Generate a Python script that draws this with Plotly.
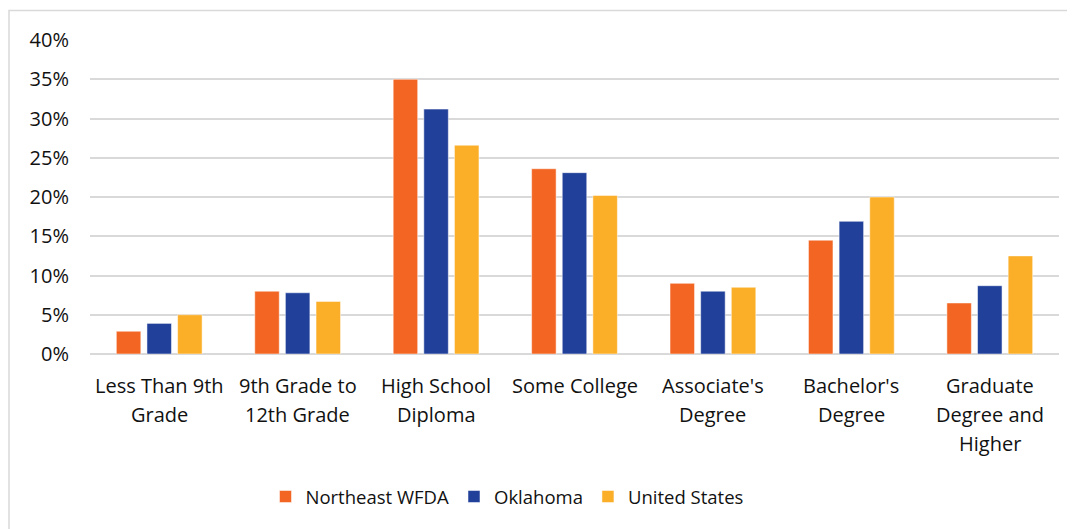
import plotly.graph_objects as go

categories = ["Less Than 9th Grade", "9th Grade to 12th Grade", "High School Diploma",
              "Some College", "Associate's Degree", "Bachelor's Degree",
              "Graduate Degree and Higher"]
label_lines = [["Less Than 9th", "Grade"], ["9th Grade to", "12th Grade"],
               ["High School", "Diploma"], ["Some College"], ["Associate's", "Degree"],
               ["Bachelor's", "Degree"], ["Graduate", "Degree and", "Higher"]]
northeast = [2.9, 8.0, 35.0, 23.6, 9.0, 14.5, 6.5]
oklahoma = [3.9, 7.8, 31.2, 23.1, 8.0, 16.9, 8.7]
united_states = [5.0, 6.7, 26.6, 20.2, 8.5, 20.0, 12.5]
series_names = ["Northeast WFDA", "Oklahoma", "United States"]
colors = ["#F26522", "#21409A", "#FBAE27"]
y_ticks = [0, 5, 10, 15, 20, 25, 30, 35, 40]

FONT = "Open Sans"
TXT = "#111111"

# page body has an 8px margin; figure is sized/placed to compensate
W, H = 1067, 521
L, R, T, B = 82, 16, 32, 175
PW, PH = W - L - R, H - T - B

fig = go.Figure()
for name, vals, col in zip(series_names, [northeast, oklahoma, united_states], colors):
    fig.add_trace(go.Bar(
        x=categories, y=vals, name=name,
        marker=dict(color=col, line=dict(color="rgba(255,255,255,0.5)", width=1)),
    ))

annotations = []
for cat, lines in zip(categories, label_lines):
    for i, ln in enumerate(lines):
        annotations.append(dict(
            x=cat, y=0, xref="x", yref="y", text=ln, showarrow=False,
            xanchor="center", yanchor="middle", yshift=-(31 + 29 * i),
            font=dict(family=FONT, size=20, color=TXT),
        ))

fig.update_layout(
    width=W, height=H,
    margin=dict(l=L, r=R, t=T, b=B, autoexpand=False),
    paper_bgcolor="white", plot_bgcolor="white",
    barmode="group", bargap=0.336, bargroupgap=0.2,
    font=dict(family=FONT, size=20, color=TXT),
    showlegend=True,
    legend=dict(orientation="h", x=(499 - L) / PW, xanchor="center",
                y=-(489 - (H - B)) / PH, yanchor="middle",
                font=dict(family=FONT, size=18.5, color=TXT),
                itemwidth=30, traceorder="normal"),
    annotations=annotations,
    shapes=[dict(type="rect", xref="paper", yref="paper",
                 x0=(1 - L) / PW, x1=1.05, y0=-0.7, y1=((H - B) - 2.5) / PH,
                 line=dict(color="#D9D9D9", width=1.5), fillcolor="rgba(0,0,0,0)",
                 layer="below")],
)
fig.update_xaxes(showticklabels=False, showline=False, showgrid=False, ticks="")
fig.update_yaxes(range=[0, 40], tickvals=y_ticks, ticktext=[f"{v}%" for v in y_ticks],
                 showgrid=True, gridcolor="#D9D9D9", gridwidth=1.5,
                 zeroline=True, zerolinecolor="#D9D9D9", zerolinewidth=1.5,
                 showline=False, ticks="", ticklabelstandoff=20,
                 tickfont=dict(family=FONT, size=20, color=TXT))

fig.write_html("out.html")
